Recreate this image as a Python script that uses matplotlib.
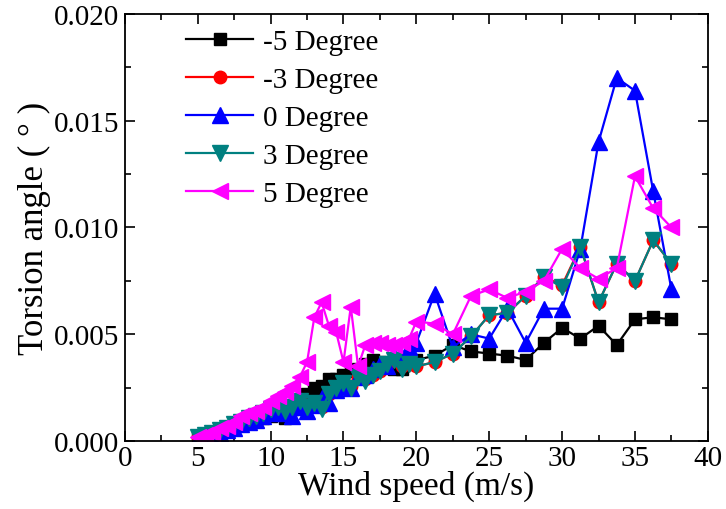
import numpy as np
import matplotlib.pyplot as plt
from matplotlib.ticker import MultipleLocator

plt.rcParams['font.family'] = ['Liberation Serif', 'DejaVu Serif']

wind = [5.0, 5.5, 6.0, 6.5, 7.0, 7.5, 8.0, 8.5, 9.0, 9.5, 10.0, 10.5, 11.0, 11.5,
        12.0, 12.5, 13.0, 13.5, 14.0, 14.5, 15.0, 15.5, 16.0, 16.5, 17.0, 17.5,
        18.0, 18.5, 19.0, 19.5, 20.0, 21.25, 22.5, 23.75, 25.0, 26.25, 27.5,
        28.75, 30.0, 31.25, 32.5, 33.75, 35.0, 36.25, 37.5]

neg5 = [0.0002, 0.0003, 0.0004, 0.0005, 0.0006, 0.0007, 0.0008, 0.0009, 0.0010,
        0.0011, 0.0012, 0.0013, 0.0011, 0.0015, 0.0018, 0.0022, 0.0025, 0.0026,
        0.0029, 0.0029, 0.0031, 0.0033, 0.0034, 0.0036, 0.0038, 0.0037, 0.0035,
        0.0034, 0.0034, 0.0036, 0.0038, 0.0040, 0.0045, 0.0042, 0.0041, 0.0040,
        0.0038, 0.0046, 0.0053, 0.0048, 0.0054, 0.0045, 0.0057, 0.0058, 0.0057]

neg3 = [0.0002, 0.0003, 0.0004, 0.0005, 0.0006, 0.0008, 0.0009, 0.0011, 0.0012,
        0.0013, 0.0015, 0.0016, 0.0015, 0.0016, 0.0019, 0.0017, 0.0018, 0.0016,
        0.0022, 0.0025, 0.0027, 0.0026, 0.0030, 0.0029, 0.0031, 0.0033, 0.0036,
        0.0038, 0.0035, 0.0036, 0.0035, 0.0037, 0.0041, 0.0049, 0.0059, 0.0060,
        0.0068, 0.0077, 0.0073, 0.0091, 0.0065, 0.0083, 0.0075, 0.0094, 0.0083]

zero = [0.0001, 0.0002, 0.0002, 0.0004, 0.0005, 0.0006, 0.0008, 0.0009, 0.0010,
        0.0012, 0.0013, 0.0014, 0.0013, 0.0012, 0.0016, 0.0014, 0.0017, 0.0020,
        0.0018, 0.0024, 0.0026, 0.0025, 0.0030, 0.0031, 0.0034, 0.0036, 0.0035,
        0.0040, 0.0039, 0.0044, 0.0046, 0.0069, 0.0044, 0.0050, 0.0048, 0.0062,
        0.0046, 0.0062, 0.0062, 0.0090, 0.0140, 0.0170, 0.0164, 0.0117, 0.0071]

pos3 = [0.0002, 0.0003, 0.0004, 0.0005, 0.0006, 0.0008, 0.0009, 0.0011, 0.0012,
        0.0013, 0.0015, 0.0016, 0.0014, 0.0016, 0.0019, 0.0016, 0.0018, 0.0015,
        0.0022, 0.0025, 0.0027, 0.0025, 0.0030, 0.0028, 0.0031, 0.0033, 0.0036,
        0.0038, 0.0034, 0.0036, 0.0035, 0.0037, 0.0041, 0.0049, 0.0059, 0.0060,
        0.0068, 0.0077, 0.0072, 0.0091, 0.0065, 0.0083, 0.0075, 0.0094, 0.0083]

pos5 = [0.0002, 0.0003, 0.0004, 0.0006, 0.0007, 0.0009, 0.0012, 0.0013, 0.0014,
        0.0016, 0.0019, 0.0021, 0.0023, 0.0026, 0.0030, 0.0037, 0.0058, 0.0065,
        0.0054, 0.0051, 0.0037, 0.0063, 0.0035, 0.0045, 0.0046, 0.0046, 0.0045,
        0.0045, 0.0046, 0.0048, 0.0056, 0.0055, 0.0050, 0.0068, 0.0071, 0.0067,
        0.0070, 0.0075, 0.0090, 0.0081, 0.0076, 0.0081, 0.0124, 0.0109, 0.0100]

labels = ['-5 Degree', '-3 Degree', '0 Degree', '3 Degree', '5 Degree']
colors = ['black', 'red', 'blue', '#008080', 'magenta']
markers = ['s', 'o', '^', 'v', '<']
sizes = [9, 9, 12, 12, 12]

fig = plt.figure(figsize=(7.26, 5.10), dpi=100)
ax = fig.add_axes([0.172, 0.133, 0.803, 0.838])

for ys, lab, c, m, s in zip([neg5, neg3, zero, pos3, pos5], labels, colors, markers, sizes):
    ax.plot(wind, ys, color=c, marker=m, markersize=s, lw=1.6, label=lab)

ax.set_xlim(0, 40)
ax.set_ylim(0, 0.020)
ax.xaxis.set_major_locator(MultipleLocator(5))
ax.xaxis.set_minor_locator(MultipleLocator(2.5))
ax.yaxis.set_major_locator(MultipleLocator(0.005))
ax.yaxis.set_minor_locator(MultipleLocator(0.0025))
ax.yaxis.set_major_formatter(plt.FormatStrFormatter('%.3f'))
ax.tick_params(which='both', direction='in', top=True, right=True, labelsize=21, width=1.2)
ax.tick_params(which='major', length=7)
ax.tick_params(which='minor', length=4)
ax.tick_params(axis='x', pad=3)
ax.tick_params(axis='y', pad=4)
for sp in ax.spines.values():
    sp.set_linewidth(1.3)

ax.set_xlabel('Wind speed (m/s)', fontsize=24, labelpad=-1)
ax.set_ylabel('Torsion angle ( ° )', fontsize=25, labelpad=2)

ax.legend(loc='upper left', bbox_to_anchor=(0.08, 1.0), frameon=False, fontsize=21,
          handlelength=2.3, labelspacing=0.4, handletextpad=0.35, borderaxespad=0.1)

fig.savefig('out.png', dpi=100)
